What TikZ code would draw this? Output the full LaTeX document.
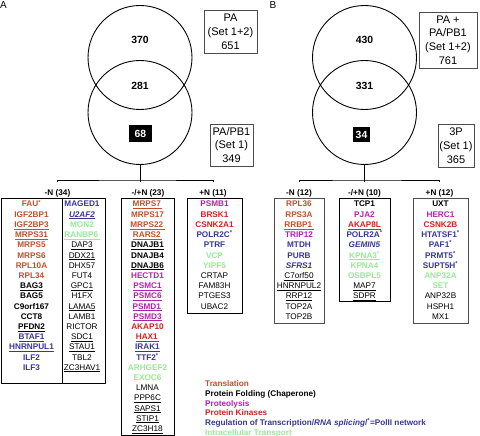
\documentclass[tikz,border=0pt]{standalone}
\usepackage{fontspec}
\setmainfont{Liberation Sans}
\definecolor{transl}{RGB}{192,80,45}
\definecolor{proteo}{RGB}{175,35,170}
\definecolor{kinase}{RGB}{215,30,35}
\definecolor{regul}{RGB}{55,55,150}
\definecolor{transp}{RGB}{150,235,150}
\newcommand{\cTr}[1]{\textcolor{transl}{#1}}
\newcommand{\cProt}[1]{\textcolor{proteo}{#1}}
\newcommand{\cKin}[1]{\textcolor{kinase}{#1}}
\newcommand{\cReg}[1]{\textcolor{regul}{#1}}
\newcommand{\cTrans}[1]{\textcolor{transp}{#1}}
\newcommand{\cNo}[1]{{\mdseries #1}}
\newcommand{\und}[1]{\underline{#1}}
\newcommand{\pII}{\textsuperscript{*}}
\begin{document}
\begin{tikzpicture}[x=1pt,y=-1pt,
	venn/.style={circle,draw,line width=0.9pt,minimum size=104pt,inner sep=0pt},
	num/.style={font=\bfseries\fontsize{10.4}{12}\selectfont},
	blackbox/.style={fill=black,text=white,font=\bfseries\fontsize{10.4}{12}\selectfont,inner sep=0pt},
	setbox/.style={draw=black!70,line width=0.7pt,align=center,inner sep=1pt,font=\fontsize{11}{13.8}\selectfont},
	head/.style={font=\bfseries\fontsize{8.2}{10}\selectfont,inner xsep=0pt,inner ysep=7pt,anchor=base},
	gene/.style={font=\bfseries\fontsize{8.2}{10}\selectfont,inner sep=0pt,anchor=base},
	legend/.style={font=\bfseries\fontsize{8.2}{10}\selectfont,inner sep=0pt,anchor=base west},
	list/.style={draw,line width=0.7pt},
	panel/.style={font=\fontsize{10}{12}\selectfont}]
	\path[use as bounding box,fill=white] (0,0) rectangle (480,436);

	% panel A
	\node[panel] (labA) at (3.5,5.5) {A};
	\node[venn] (upA) at (140,57.5) {};
	\node[venn] (lowA) at (140,112.5) {};
	\node[num] (onlyA) at (140,40) {370};
	\node[num] (bothA) at (140,86) {281};
	\node[blackbox,minimum width=23pt,minimum height=17pt] (selA) at (140.5,133.5) {68};
	\node[setbox,minimum width=53pt,minimum height=43pt] (paA) at (230.5,31.5) {PA\\(Set 1+2)\\651};
	\node[setbox,minimum width=43pt,minimum height=42pt] (pbA) at (231.5,145) {PA/PB1\\(Set 1)\\349};

	\coordinate (jA) at (140,180);
	\node[head] (hA1) at (57.5,195.5) {-N (34)};
	\node[head] (hA2) at (148,195.5) {-/+N (23)};
	\node[head] (hA3) at (213,195.5) {+N (11)};
	\draw[line width=0.7pt] (lowA.south) -- (jA);
	\draw[line width=0.7pt] (hA1.north) |- (jA) -| (hA3.north);
	\draw[line width=0.7pt] (jA) -- (jA |- hA2.north);

	\draw[list] (1.5,198) rectangle (105,383);
	\draw[list] (62,198) -- (62,383);
	\foreach \g [count=\i] in {\cTr{FAU\pII},\cTr{IGF2BP1},\cTr{\und{IGF2BP3}},\cTr{\und{MRPS31}},
		\cTr{MRPS5},\cTr{MRPS6},\cTr{RPL10A},\cTr{RPL34},\und{BAG3},BAG5,C9orf167,CCT8,\und{PFDN2},
		\cReg{\und{BTAF1}},\cReg{\und{HNRNPUL1}},\cReg{ILF2},\cReg{ILF3}}
		\node[gene] (aN\i) at (31.5,{207+10.2*(\i-1)}) {\g};
	\foreach \g [count=\i] in {\cReg{MAGED1},\cReg{\und{\textit{U2AF2}}},\cTrans{MON2},\cTrans{\und{RANBP6\,}},
		\cNo{\und{DAP3}},\cNo{\und{DDX21}},\cNo{DHX57},\cNo{FUT4},\cNo{\und{GPC1}},\cNo{H1FX},
		\cNo{\und{LAMA5}},\cNo{LAMB1},\cNo{RICTOR},\cNo{\und{SDC1}},\cNo{\und{STAU1}},\cNo{TBL2},\cNo{\und{ZC3HAV1}}}
		\node[gene] (aNr\i) at (82,{207+10.2*(\i-1)}) {\g};

	\draw[list] (121,198) rectangle (174,435);
	\foreach \g [count=\i] in {\cTr{\und{MRPS7\,}},\cTr{MRPS17},\cTr{\und{MRPS22\,}},\cTr{\und{RARS2\,}},
		\und{DNAJB1},DNAJB4,\und{DNAJB6},\cProt{HECTD1},\cProt{\und{PSMC1}},\cProt{\und{PSMC6}},
		\cProt{\und{PSMD1\,}},\cProt{\und{PSMD3}},\cKin{AKAP10},\cKin{\und{HAX1\,}},\cReg{\und{IRAK1}},
		\cReg{TTF2\pII},\cTrans{ARHGEF2},\cTrans{EXOC6},\cNo{LMNA},\cNo{\und{PPP6C}},\cNo{\und{SAPS1}},
		\cNo{\und{STIP1}},\cNo{\und{ZC3H18}}}
		\node[gene] (aM\i) at (147.5,{207+10.2*(\i-1)}) {\g};

	\draw[list] (187,198) rectangle (242,313);
	\foreach \g [count=\i] in {\cProt{PSMB1},\cKin{BRSK1},\cKin{CSNK2A1},\cReg{POLR2C\pII},\cReg{PTRF},
		\cTrans{VCP},\cTrans{YIPF5},\cNo{CRTAP},\cNo{FAM83H},\cNo{PTGES3},\cNo{UBAC2}}
		\node[gene] (aP\i) at (214.5,{207+10.2*(\i-1)}) {\g};

	% panel B
	\node[panel] (labB) at (273,5.5) {B};
	\node[venn] (upB) at (364.5,57.5) {};
	\node[venn] (lowB) at (364.5,112.5) {};
	\node[num] (onlyB) at (364.5,40) {430};
	\node[num] (bothB) at (364.5,86) {331};
	\node[blackbox,minimum width=17pt,minimum height=15pt] (selB) at (361.5,134.5) {34};
	\node[setbox,minimum width=58pt,minimum height=56pt] (paB) at (448,40) {PA +\\PA/PB1\\(Set 1+2)\\761};
	\node[setbox,minimum width=36pt,minimum height=43pt] (tpB) at (456,145.5) {3P\\(Set 1)\\365};

	\coordinate (jB) at (364.5,180);
	\node[head] (hB1) at (299,195.5) {-N (12)};
	\node[head] (hB2) at (364.5,195.5) {-/+N (10)};
	\node[head] (hB3) at (439.5,195.5) {+N (12)};
	\draw[line width=0.7pt] (lowB.south) -- (jB);
	\draw[line width=0.7pt] (hB1.north) |- (jB) -| (hB3.north);
	\draw[line width=0.7pt] (jB) -- (hB2.north);

	\draw[list,draw=black!70] (274,198) rectangle (324,323);
	\foreach \g [count=\i] in {\cTr{RPL36},\cTr{RPS3A},\cTr{\und{RRBP1\,}},\cProt{TRIP12},\cReg{MTDH},
		\cReg{PURB},\cReg{\textit{SFRS1}},\cNo{\und{C7orf50}},\cNo{\und{HNRNPUL2}},\cNo{\und{RRP12}},
		\cNo{TOP2A},\cNo{TOP2B}}
		\node[gene] (bN\i) at (299,{207+10.2*(\i-1)}) {\g};

	\draw[list] (339,198) rectangle (390,301);
	\foreach \g [count=\i] in {TCP1,\cProt{PJA2},\cKin{\und{AKAP8L}},\cReg{POLR2A\pII},\cReg{\textit{GEMIN5}},
		\cTrans{\und{KPNA3\pII}},\cTrans{KPNA4},\cTrans{OSBPL5},\cNo{\und{MAP7}},\cNo{\und{SDPR}}}
		\node[gene] (bM\i) at (364.5,{207+10.2*(\i-1)}) {\g};

	\draw[list,draw=black!70] (413,198) rectangle (468,323);
	\foreach \g [count=\i] in {UXT,\cProt{HERC1},\cKin{CSNK2B},\cReg{HTATSF1\pII},\cReg{PAF1\pII},
		\cReg{PRMT5\pII},\cReg{SUPT5H\pII},\cTrans{ANP32A},\cTrans{SET},\cNo{ANP32B},\cNo{HSPH1},\cNo{MX1}}
		\node[gene] (bP\i) at (440.5,{207+10.2*(\i-1)}) {\g};

	% legend
	\node[legend] (lg1) at (205,386.5) {\cTr{Translation}};
	\node[legend] (lg2) at (205,396.3) {Protein Folding (Chaperone)};
	\node[legend] (lg3) at (205,406.1) {\cProt{Proteolysis}};
	\node[legend] (lg4) at (205,415.9) {\cKin{Protein Kinases}};
	\node[legend] (lg5) at (205,425.7) {\cReg{Regulation of Transcription/\textit{RNA splicing}/\pII=PolII network}};
	\node[legend] (lg6) at (205,435) {\cTrans{Intracellular Transport}};
\end{tikzpicture}
\end{document}
